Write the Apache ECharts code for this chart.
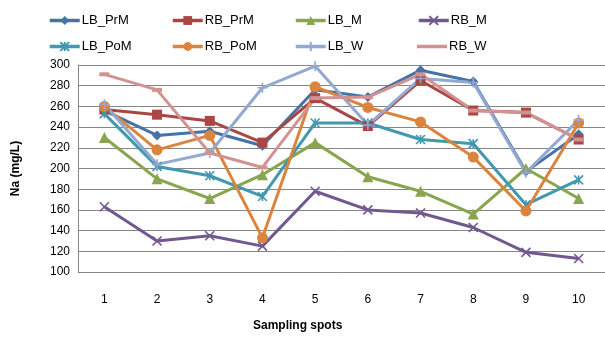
<!DOCTYPE html>
<html>
<head>
<meta charset="utf-8">
<script src="https://cdn.jsdelivr.net/npm/echarts@6/dist/echarts.min.js"></script>
<style>
  html, body { margin: 0; padding: 0; background: #fff; }
  #chart { width: 605px; height: 341px; }
</style>
</head>
<body>
<div id="chart"></div>
<script>
  // sampling spots
  const spots = ['1', '2', '3', '4', '5', '6', '7', '8', '9', '10'];

  // Na (mg/L) per series
  const lbPrM  = [256, 232, 236, 222, 276, 269, 295, 284, 197, 233];
  const rbPrM  = [257, 252, 246, 225, 268, 241, 285, 256, 254, 228];
  const lbM    = [230, 190, 171, 194, 225, 192, 178, 156, 200, 171];
  const rbM    = [163, 130, 135, 125, 178, 160, 157, 143, 119, 113];
  const lbPoM  = [253, 202, 193, 173, 244, 244, 228, 224, 165, 189];
  const rbPoM  = [260, 218, 232, 133, 279, 259, 245, 211, 159, 244];
  const lbW    = [262, 204, 215, 278, 299, 242, 287, 283, 196, 247];
  const rbW    = [291, 276, 215, 201, 268, 269, 291, 256, 254, 228];

  const seriesNames = ['LB_PrM', 'RB_PrM', 'LB_M', 'RB_M', 'LB_PoM', 'RB_PoM', 'LB_W', 'RB_W'];

  const FONT = 'Liberation Sans';

  // marker shapes, roughly like the excel defaults
  const xMark = 'path://M0,0L10,10M10,0L0,10';
  const starMark = 'path://M0,0L10,10M10,0L0,10M5,0L5,10';
  const plusMark = 'path://M5,0L5,10M0,5L10,5';

  function mkSeries(name, data, color, symbol, size, stroke) {
    return {
      name: name,
      type: 'line',
      data: data,
      symbol: symbol,
      symbolSize: size,
      showAllSymbol: true,
      lineStyle: { color: color, width: 3 },
      itemStyle: {
        color: color,
        borderColor: color,
        borderWidth: stroke ? 1.6 : 0
      },
      emphasis: { disabled: true },
      z: 2
    };
  }

  // one legend per entry so the columns line up
  const legX = [48, 171, 294, 417];
  const legY = [14, 40];
  const legends = seriesNames.map(function (n, i) {
    // RB_W has only a flat dash marker, show it as a plain line
    const item = n === 'RB_W' ? { name: n, icon: 'path://M0,0L30,0L30,3.5L0,3.5Z' } : n;
    return {
      data: [item],
      left: legX[i % 4],
      top: legY[Math.floor(i / 4)],
      itemWidth: 30,
      itemHeight: 11,
      padding: 0,
      selectedMode: false,
      lineStyle: { width: 3.5 },
      textStyle: { fontFamily: FONT, fontSize: 13, color: '#000', padding: [0, 0, 0, -3] }
    };
  });

  const chart = echarts.init(document.getElementById('chart'), null, { renderer: 'canvas' });

  const option = {
    animation: false,
    backgroundColor: '#fff',
    legend: legends,
    title: {
      text: 'Sampling spots',
      left: 253,
      top: 320,
      padding: 0,
      textStyle: { fontFamily: FONT, fontSize: 12, fontWeight: 'bold', color: '#000' }
    },
    grid: { left: 78, top: 65, width: 533, height: 207, containLabel: false },
    xAxis: {
      type: 'category',
      data: spots,
      boundaryGap: true,
      axisLine: { show: false },
      axisTick: { show: false },
      axisLabel: { fontFamily: FONT, fontSize: 12, color: '#000', margin: 22 }
    },
    yAxis: {
      type: 'value',
      min: 100,
      max: 300,
      interval: 20,
      name: 'Na (mg/L)',
      nameLocation: 'middle',
      nameGap: 56,
      nameTextStyle: { fontFamily: FONT, fontSize: 12, fontWeight: 'bold', color: '#000' },
      axisLine: { show: true, lineStyle: { color: '#868686', width: 1 } },
      axisTick: { show: false },
      axisLabel: { fontFamily: FONT, fontSize: 12, color: '#000', margin: 8 },
      splitLine: { lineStyle: { color: '#868686', width: 1 } }
    },
    series: [
      mkSeries('LB_PrM', lbPrM, '#4572A7', 'diamond', 10, false),
      mkSeries('RB_PrM', rbPrM, '#AA4643', 'rect', 10, false),
      mkSeries('LB_M', lbM, '#89A54E', 'triangle', 11, false),
      mkSeries('RB_M', rbM, '#71588F', xMark, 9, true),
      mkSeries('LB_PoM', lbPoM, '#4198AF', starMark, 9, true),
      mkSeries('RB_PoM', rbPoM, '#DB843D', 'circle', 11, false),
      mkSeries('LB_W', lbW, '#93A9CF', plusMark, 10, true),
      mkSeries('RB_W', rbW, '#D19392', 'rect', [10, 4], false)
    ]
  };

  chart.setOption(option);
</script>
</body>
</html>
